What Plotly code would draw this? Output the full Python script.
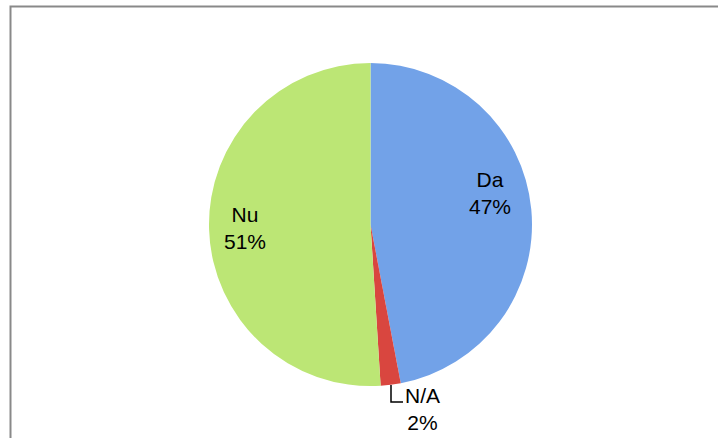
import plotly.graph_objects as go

labels = ["Da", "N/A", "Nu"]
values = [47, 2, 51]
colors = ["#72A2E8", "#D9463F", "#BCE675"]

W, H = 718, 438
cx, cy, R = 370.5, 224.5, 161.5  # pixel centre/radius of the pie

def px(x):
    return x / W

def py(y):
    return 1 - y / H

fig = go.Figure(go.Pie(
    labels=labels, values=values, sort=False, direction="clockwise", rotation=0,
    marker=dict(colors=colors, line=dict(width=0)),
    textinfo="none", hoverinfo="label+percent", showlegend=False,
    domain=dict(x=[px(cx - R), px(cx + R)], y=[py(cy + R), py(cy - R)]),
))

# label positions (pixels) for each slice
label_pos = [(490, 193), (422, 409), (245, 228)]
for lab, val, (lx, ly) in zip(labels, values, label_pos):
    fig.add_annotation(x=px(lx), y=py(ly), xref="paper", yref="paper",
                       xanchor="center", yanchor="middle",
                       text=f"{lab}<br>{val}%", showarrow=False,
                       font=dict(family="Liberation Sans, Arial", size=21, color="#000000"),
                       align="center")

# leader line for N/A
fig.add_shape(type="path", xref="paper", yref="paper",
              path=f"M {px(391)} {py(385)} L {px(391)} {py(402)} L {px(403)} {py(402)}",
              line=dict(color="#000000", width=1.5))

# chart border
fig.add_shape(type="rect", xref="paper", yref="paper",
              x0=px(10.5), x1=1.05, y0=-0.05, y1=py(6.5),
              line=dict(color="#898989", width=2), fillcolor="rgba(0,0,0,0)")

fig.update_layout(width=W, height=H, margin=dict(l=0, r=0, t=0, b=0),
                  paper_bgcolor="#FFFFFF", plot_bgcolor="#FFFFFF")

fig.write_html("out.html")
